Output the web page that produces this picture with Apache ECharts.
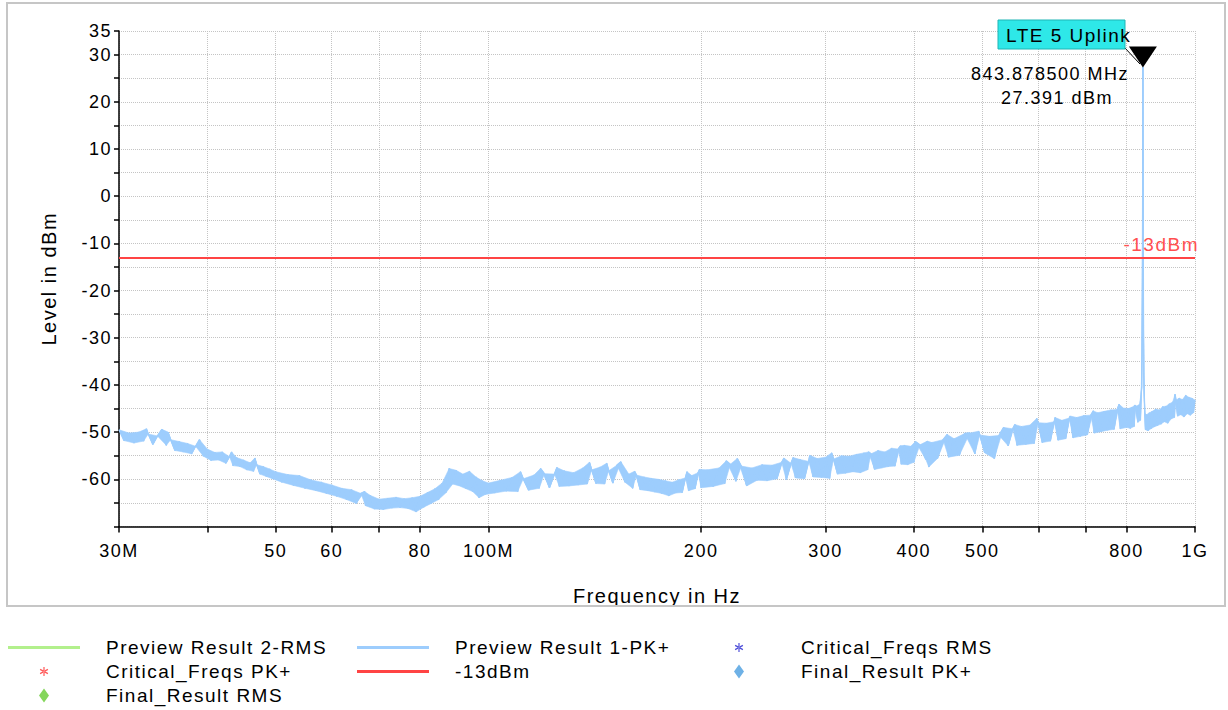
<!DOCTYPE html>
<html>
<head>
<meta charset="utf-8">
<script src="https://cdn.jsdelivr.net/npm/echarts@6/dist/echarts.min.js"></script>
<style>
  html, body { margin: 0; padding: 0; background: #fff; }
  #chart { width: 1228px; height: 710px; }
  #chart svg text { letter-spacing: 1.5px; }
</style>
</head>
<body>
<div id="chart"></div>
<script>
// frequency sweep, MHz
const freqMHz = [
  30, 30.5, 31, 31.5, 32, 32.5, 32.8, 33, 33.5, 34, 34.5, 35, 35.2, 35.5, 36, 36.5, 37, 37.5, 38, 38.5, 39, 39.5,
  40, 40.5, 41, 41.5, 42, 42.5, 43, 43.3, 43.5, 44, 44.5, 45, 45.5, 46, 46.5, 46.7, 47, 47.5, 48, 48.5, 49, 49.5, 50,
  51, 52, 53, 54, 55, 56, 57, 58, 59, 60, 61, 62, 63, 64, 65, 66, 66.8, 67, 68, 69, 70,
  71, 72, 73, 74, 75, 76, 77, 78, 79, 80, 81, 82, 83, 84, 85, 86, 87, 88, 89, 90,
  91, 92, 93, 94, 95, 96, 97, 98, 99, 100,
  102, 104, 106, 108, 110, 111, 112, 114, 116, 118, 118.5, 120, 122, 124, 125, 126, 128, 130, 132, 134, 136, 138, 139, 140,
  142, 144, 146, 147, 148, 150, 152, 154, 156, 158, 160, 161, 162, 164, 166, 168, 170, 172, 174, 176, 178, 180,
  182, 184, 186, 188, 190, 191, 192, 194, 196, 198, 199, 200,
  204, 208, 212, 216, 217, 220, 224, 225, 228, 232, 236, 240, 244, 248, 252, 256, 260, 262, 264, 268, 270, 272, 276, 280,
  284, 285, 288, 292, 296, 300, 304, 306, 308, 312, 316, 320, 324, 328, 332, 336, 340, 344, 345, 348, 352, 356, 360,
  364, 368, 372, 376, 380, 383, 384, 388, 392, 396, 400,
  402, 408, 416, 418, 420, 424, 432, 440, 446, 448, 456, 464, 472, 480, 488, 494, 496, 504, 512, 520, 528, 536, 544, 552, 556, 560,
  568, 576, 584, 592, 597, 600, 608, 616, 624, 632, 634, 640, 648, 656, 664, 666, 672, 680, 688, 696, 704, 712, 718, 720,
  728, 736, 744, 752, 760, 768, 776, 781, 784, 792, 800,
  805, 810, 815, 820, 822, 825, 830, 834, 837, 839, 840.5, 841.5, 842.5, 843.3, 843.8785, 844.5, 845.3, 846.3, 847.5, 849, 851,
  854, 858, 862, 866, 870, 875, 880, 885, 890, 895, 900, 905, 910, 915, 920, 925, 930, 935, 937, 940, 945,
  950, 955, 960, 965, 970, 975, 980, 985, 990, 995, 1000
];

// Preview Result 1-PK+, dBm
const levelDbm = [
  -49.5, -51.8, -50.2, -52.3, -50.0, -51.9, -49.3, -50.4, -52.6, -50.8, -49.4, -52.8, -50.0, -51.6, -53.9, -52.0, -54.2, -52.4, -54.6, -53.0, -51.6, -55.1,
  -53.6, -56.0, -54.3, -55.9, -54.2, -56.6, -55.2, -54.2, -57.1, -55.4, -57.3, -55.9, -58.0, -56.5, -58.3, -55.5, -56.9, -58.9, -57.3, -59.4, -57.8, -59.9, -58.4,
  -60.6, -59.0, -61.3, -59.2, -61.9, -60.1, -62.4, -60.6, -63.0, -61.2, -63.6, -61.9, -64.3, -62.2, -65.1, -63.0, -62.6, -65.6, -63.4, -66.3, -64.2,
  -66.4, -64.0, -66.1, -63.8, -66.0, -64.1, -66.2, -63.9, -66.9, -63.6, -65.9, -62.8, -65.1, -62.0, -64.3, -60.8, -62.9, -57.7, -61.0, -58.1,
  -61.4, -58.9, -62.0, -58.3, -62.6, -59.5, -63.9, -60.3, -63.2, -60.8,
  -62.9, -60.2, -62.5, -59.6, -62.6, -58.4, -59.9, -62.3, -59.1, -61.9, -57.7, -58.8, -61.8, -58.9, -57.5, -61.5, -58.2, -61.4, -58.6, -61.2, -57.6, -61.0, -56.4, -58.0,
  -60.9, -57.4, -61.0, -56.6, -58.2, -60.8, -57.0, -56.3, -60.6, -58.9, -61.9, -58.3, -59.1, -62.2, -59.5, -62.4, -59.8, -62.7, -60.0, -63.0, -60.3, -63.5,
  -60.6, -62.9, -60.1, -62.8, -59.7, -58.4, -62.4, -59.2, -62.0, -58.6, -57.9, -61.8,
  -58.0, -61.5, -57.6, -60.9, -56.1, -56.8, -60.4, -55.6, -57.2, -61.4, -57.6, -60.2, -56.9, -60.3, -57.0, -59.9, -56.4, -55.5, -60.1, -56.6, -55.4, -59.7, -55.8, -59.9,
  -56.2, -54.9, -59.5, -55.6, -59.6, -55.3, -59.8, -54.4, -55.7, -58.9, -55.0, -58.7, -55.1, -58.4, -54.7, -58.6, -54.4, -58.0, -54.2, -54.6, -57.9, -53.9, -57.6,
  -54.2, -57.3, -53.4, -57.2, -53.6, -52.9, -56.8, -52.8, -56.9, -53.0, -56.4,
  -52.0, -52.7, -55.8, -51.9, -57.4, -52.2, -55.6, -51.6, -50.5, -55.3, -51.4, -54.9, -50.3, -50.2, -54.6, -49.8, -50.6, -54.4, -50.9, -55.6, -50.7, -49.0, -52.9, -49.3, -48.4, -52.8,
  -48.8, -52.6, -48.5, -52.4, -47.1, -48.0, -52.2, -48.1, -51.9, -47.8, -46.9, -51.7, -47.5, -51.4, -47.0, -46.6, -51.2, -46.9, -50.9, -46.5, -50.6, -46.4, -45.5, -50.2,
  -45.9, -49.9, -45.6, -49.6, -45.3, -49.4, -45.2, -44.1, -49.3, -44.9, -49.0,
  -45.0, -49.2, -44.7, -48.8, -44.3, -44.5, -47.9, -44.2, -47.5, -42.0, -40.5, -33.0, -20.0, 2.0, 27.391, 1.0, -28.0, -38.0, -42.0, -46.0, -49.5,
  -46.3, -49.7, -45.9, -49.3, -45.6, -48.9, -45.1, -48.6, -45.3, -48.3, -44.6, -47.8, -44.5, -48.1, -44.0, -47.2, -43.6, -46.9, -42.0, -43.2, -46.6,
  -42.8, -46.3, -43.1, -46.8, -42.2, -46.1, -42.6, -46.4, -42.8, -45.9, -43.2
];

const limitDbm = -13;
const limitLabel = '-13dBm';
const peakMHz = 843.8785;
const peakDbm = 27.391;
const markerName = 'LTE 5 Uplink';
const markerFreqText = '843.878500 MHz';
const markerLevelText = '27.391 dBm';

const xTickMHz = [30, 40, 50, 60, 70, 80, 100, 200, 300, 400, 500, 600, 700, 800, 1000];
const xLabelMHz = [30, 50, 60, 80, 100, 200, 300, 400, 500, 800, 1000];
const xLabelText = ['30M', '50', '60', '80', '100M', '200', '300', '400', '500', '800', '1G'];

const FONT = '"Liberation Sans", Arial, sans-serif';
const TRACE = '#9dcdfd';
const LIMIT = '#ff4444';
const lg = v => Math.log10(v);

const trace = freqMHz.map((f, i) => [lg(f), levelDbm[i]]);

// legend icons, all in the same 72x14 box so the texts line up
const box = 'M0,0L0.01,0L0,0.01Z M72,14L71.99,14L72,13.99Z ';
const lineIcon = 'path://' + box + 'M0,5.5H72V8.5H0Z';
const asterisk = 'path://' + box +
  'M35.4,2.5h1.2v9h-1.2Z M31.8,5.4L32.4,4.3L40.2,8.6L39.6,9.7Z M31.8,8.6L32.4,9.7L40.2,5.4L39.6,4.3Z';
const diamond = 'path://' + box + 'M36,0L41,7L36,14L31,7Z';

const chart = echarts.init(document.getElementById('chart'), null, { renderer: 'svg' });

const legendBase = {
  orient: 'vertical',
  top: 638,
  padding: 0,
  itemWidth: 72,
  itemHeight: 14,
  itemGap: 5,
  selectedMode: false,
  textStyle: { fontFamily: FONT, fontSize: 19, color: '#000', padding: [0, 0, 0, 21] }
};

const option = {
  animation: false,
  backgroundColor: '#fff',
  textStyle: { fontFamily: FONT },
  grid: { left: 119, right: 33, top: 31, bottom: 183.5 },
  legend: [
    Object.assign({}, legendBase, {
      left: 8,
      data: [
        { name: 'Preview Result 2-RMS', icon: lineIcon },
        { name: 'Critical_Freqs PK+', icon: asterisk },
        { name: 'Final_Result RMS', icon: diamond }
      ]
    }),
    Object.assign({}, legendBase, {
      left: 357,
      data: [
        { name: 'Preview Result 1-PK+', icon: lineIcon },
        { name: '-13dBm', icon: lineIcon }
      ]
    }),
    Object.assign({}, legendBase, {
      left: 703,
      data: [
        { name: 'Critical_Freqs RMS', icon: asterisk },
        { name: 'Final_Result PK+', icon: diamond }
      ]
    })
  ],
  xAxis: {
    type: 'value',
    min: lg(30),
    max: lg(1000),
    name: 'Frequency in Hz',
    nameLocation: 'middle',
    nameGap: 59,
    nameTextStyle: { fontFamily: FONT, fontSize: 20, color: '#000' },
    axisLine: { onZero: false, lineStyle: { color: '#000', width: 1.5 } },
    axisTick: { customValues: xTickMHz.map(lg), length: 6, lineStyle: { color: '#000', width: 1.5 } },
    axisLabel: {
      customValues: xLabelMHz.map(lg),
      margin: 15,
      fontFamily: FONT,
      fontSize: 18,
      color: '#000',
      formatter: v => {
        const i = xLabelMHz.findIndex(f => Math.abs(lg(f) - v) < 1e-6);
        return i >= 0 ? xLabelText[i] : '';
      }
    },
    splitLine: { show: true, lineStyle: { color: '#c4c4c4', type: 'dotted', width: 1 } }
  },
  yAxis: {
    type: 'value',
    min: -70,
    max: 35,
    interval: 5,
    name: 'Level in dBm',
    nameLocation: 'middle',
    nameGap: 60,
    nameTextStyle: { fontFamily: FONT, fontSize: 20, color: '#000' },
    axisLine: { show: true, onZero: false, lineStyle: { color: '#000', width: 1.5 } },
    axisTick: { show: true, length: 5, lineStyle: { color: '#000', width: 1.5 } },
    axisLabel: {
      margin: 7,
      fontFamily: FONT,
      fontSize: 18,
      color: '#000',
      formatter: v => (v === 35 || (v % 10 === 0 && v > -70)) ? String(v) : ''
    },
    splitLine: { show: true, lineStyle: { color: '#c4c4c4', type: 'dotted', width: 1 } }
  },
  series: [
    {
      name: 'Preview Result 2-RMS', type: 'line', data: [], symbol: 'none',
      itemStyle: { color: '#b2f08c' }, lineStyle: { color: '#b2f08c', width: 2 }
    },
    {
      // fill the zigzag between neighbouring samples so the noisy trace reads as a band
      name: 'trace band', type: 'custom', data: trace, z: 3, clip: true, silent: true,
      renderItem: (params, api) => {
        const i = params.dataIndex;
        if (i >= trace.length - 2) return null;
        return {
          type: 'polygon',
          shape: { points: [api.coord(trace[i]), api.coord(trace[i + 1]), api.coord(trace[i + 2])] },
          style: { fill: TRACE, stroke: TRACE, lineWidth: 0.6 }
        };
      }
    },
    {
      name: 'Preview Result 1-PK+', type: 'line', data: trace, symbol: 'none', z: 4,
      itemStyle: { color: TRACE }, lineStyle: { color: TRACE, width: 1.4 },
      markPoint: {
        symbol: 'triangle',
        symbolRotate: 180,
        symbolSize: [28, 21],
        symbolOffset: [0, -10],
        itemStyle: { color: '#000' },
        label: { show: false },
        data: [{ coord: [lg(peakMHz), peakDbm] }]
      }
    },
    { name: 'Critical_Freqs RMS', type: 'scatter', data: [], itemStyle: { color: '#2424d0' } },
    { name: 'Critical_Freqs PK+', type: 'scatter', data: [], itemStyle: { color: '#ff3030' } },
    {
      name: '-13dBm', type: 'line', symbol: 'none', z: 2, data: [],
      itemStyle: { color: LIMIT }, lineStyle: { color: LIMIT, width: 2 },
      markLine: {
        silent: true,
        symbol: 'none',
        animation: false,
        lineStyle: { color: LIMIT, width: 2, type: 'solid' },
        label: {
          show: true, position: 'insideEndTop', distance: [-4, 4], formatter: limitLabel,
          fontFamily: FONT, fontSize: 19, color: '#ff5050'
        },
        data: [{ yAxis: limitDbm }]
      }
    },
    { name: 'Final_Result RMS', type: 'scatter', data: [], itemStyle: { color: '#66cc33' } },
    { name: 'Final_Result PK+', type: 'scatter', data: [], itemStyle: { color: '#4a9de0' } }
  ],
  graphic: [
    {
      type: 'rect', z: 50, silent: true,
      shape: { x: 7, y: 3, width: 1218, height: 603 },
      style: { fill: 'none', stroke: '#c6c6c6', lineWidth: 2 }
    },
    {
      type: 'line', z: 40, silent: true,
      shape: { x1: 1124, y1: 47, x2: 1140, y2: 64 },
      style: { stroke: '#000', lineWidth: 1 }
    },
    {
      type: 'rect', z: 45, silent: true,
      shape: { x: 998, y: 20, width: 127, height: 29 },
      style: { fill: '#2ee8e8', stroke: '#1fb5b5', lineWidth: 1 }
    },
    {
      type: 'text', z: 46, silent: true,
      style: { text: markerName, x: 1006, y: 35, verticalAlign: 'middle', font: '19px ' + FONT, fill: '#000' }
    },
    {
      type: 'text', z: 46, silent: true,
      style: { text: markerFreqText, x: 1050, y: 74, align: 'center', verticalAlign: 'middle', font: '18px ' + FONT, fill: '#000' }
    },
    {
      type: 'text', z: 46, silent: true,
      style: { text: markerLevelText, x: 1057, y: 98, align: 'center', verticalAlign: 'middle', font: '18px ' + FONT, fill: '#000' }
    }
  ]
};

chart.setOption(option);
</script>
</body>
</html>
